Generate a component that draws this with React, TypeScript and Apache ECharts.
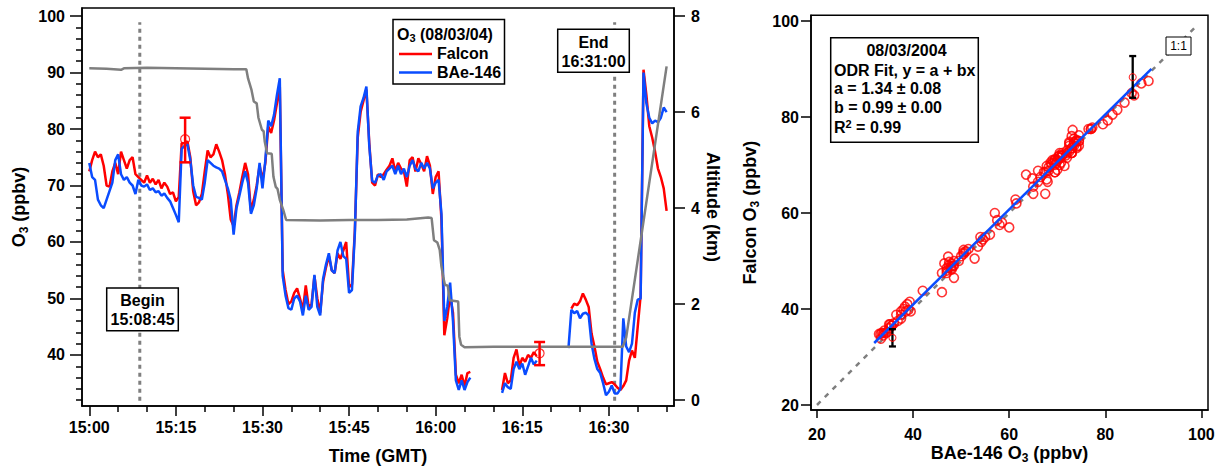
import React, { useEffect, useRef } from 'react';
import * as echarts from 'echarts';

const FONT = '"Liberation Sans", Arial, Helvetica, sans-serif';

// ---- Time series (minutes after 15:00 GMT, 30 s steps) ----
const minutes = [
  0, 0.5, 1, 1.5, 2, 2.5, 3, 3.5, 4, 4.5,
  5, 5.5, 6, 6.5, 7, 7.5, 8, 8.5, 9, 9.5,
  10, 10.5, 11, 11.5, 12, 12.5, 13, 13.5, 14, 14.5,
  15, 15.5, 16, 16.5, 17, 17.5, 18, 18.5, 19, 19.5,
  20, 20.5, 21, 21.5, 22, 22.5, 23, 23.5, 24, 24.5,
  25, 25.5, 26, 26.5, 27, 27.5, 28, 28.5, 29, 29.5,
  30, 30.5, 31, 31.5, 32, 32.5, 33, 33.5, 34, 34.5,
  35, 35.5, 36, 36.5, 37, 37.5, 38, 38.5, 39, 39.5,
  40, 40.5, 41, 41.5, 42, 42.5, 43, 43.5, 44, 44.5,
  45, 45.5, 46, 46.5, 47, 47.5, 48, 48.5, 49, 49.5,
  50, 50.5, 51, 51.5, 52, 52.5, 53, 53.5, 54, 54.5,
  55, 55.5, 56, 56.5, 57, 57.5, 58, 58.5, 59, 59.5,
  60, 60.5, 61, 61.5, 62, 62.5, 63, 63.5, 64, 64.5,
  65, 65.5, 66, 66.5, 67, 67.5, 68, 68.5, 69, 69.5,
  70, 70.5, 71, 71.5, 72, 72.5, 73, 73.5, 74, 74.5,
  75, 75.5, 76, 76.5, 77, 77.5, 78, 78.5, 79, 79.5,
  80, 80.5, 81, 81.5, 82, 82.5, 83, 83.5, 84, 84.5,
  85, 85.5, 86, 86.5, 87, 87.5, 88, 88.5, 89, 89.5,
  90, 90.5, 91, 91.5, 92, 92.5, 93, 93.5, 94, 94.5,
  95, 95.5, 96, 96.5, 97, 97.5, 98, 98.5, 99, 99.5,
  100,
];

const falconO3 = [
  72.5, 74.5, 76.0, 75.0, 75.5, 73.5, 70.0, 69.8, 72.5, 74.0,
  72.0, 76.0, 74.5, 73.0, 74.5, 75.0, 72.0, 71.5, 71.0, 70.5,
  71.8, 70.5, 71.2, 70.2, 71.0, 69.5, 70.5, 69.8, 68.5, 68.8,
  67.2, 68.0, 77.5, 77.5, 77.8, 75.0, 69.0, 66.5, 67.0, 68.5,
  72.5, 76.2, 75.0, 75.5, 77.3, 76.0, 74.5, 72.0, 68.5, 64.0,
  62.8, 66.5, 68.8, 71.5, 74.0, 72.0, 65.5, 67.5, 70.0, 73.5,
  71.0, 74.0, 80.5, 79.3, 81.5, 84.5, 87.5, 55.0, 51.5, 49.0,
  49.5, 51.0, 51.8, 50.0, 48.0, 52.3, 48.5, 49.0, 54.0, 50.0,
  47.5, 53.0, 55.5, 57.5, 55.0, 54.5, 58.0, 57.0, 58.5, 60.0,
  52.0, 52.5, 62.0, 78.5, 83.0, 85.0, 87.0, 77.5, 70.5, 70.0,
  72.0, 71.5, 72.0, 72.8, 73.5, 74.8, 72.5, 74.0, 73.0, 72.5,
  69.8, 74.5, 75.0, 72.5, 74.8, 73.8, 72.5, 75.2, 73.5, 68.5,
  71.5, 72.5, 64.0, 43.5, 46.5, 50.5, 47.5, 36.5, 35.0, 36.5,
  34.5, 36.8, 37.0, null, null, null, null, null, null, null,
  null, null, null, 33.8, 36.8, 35.0, 35.5, 39.5, 41.0, 38.0,
  39.5, 38.8, 40.0, 39.5, 40.5, 39.8, null, null, null, null,
  null, null, null, null, null, null, null, 48.2, 49.1, 48.8,
  49.5, 50.9, 49.8, 48.5, 43.8, 41.5, 38.8, 37.5, 36.0, 34.8,
  35.0, 35.2, 34.8, 34.2, 33.8, 34.5, 35.5, 39.0, 40.8, 39.5,
  45.0, 50.5, 90.5, 86.0, 80.5, 78.5, 76.0, 73.0, 71.5, 69.5,
  65.5,
];

const bae146O3 = [
  74.0, 71.5, 71.0, 67.5, 66.5, 66.0, 67.5, 69.0, 70.5, 74.5,
  75.5, 72.0, 71.0, 71.5, 70.5, 70.0, 68.5, 71.0, 70.0, 69.8,
  70.2, 69.2, 69.5, 68.8, 69.0, 68.2, 68.6, 67.8, 67.2, 66.0,
  64.8, 63.5, 76.5, 77.0, 77.3, 74.5, 70.0, 68.0, 67.8, 67.5,
  70.5, 74.5, 74.0, 73.5, 73.2, 73.0, 72.5, 71.0, 69.5, 67.5,
  61.3, 66.0, 68.2, 70.5, 72.5, 70.5, 65.0, 66.5, 69.5, 74.0,
  69.5, 74.5, 81.5, 80.5, 82.5, 86.0, 89.0, 54.0, 50.5, 48.3,
  48.0, 50.0, 50.5, 49.5, 47.0, 50.5, 48.0, 48.5, 54.2, 48.5,
  47.0, 53.5, 56.0, 58.0, 55.0, 54.5, 58.5, 60.0, 57.5, 57.0,
  51.0, 51.5, 61.5, 79.5, 84.0, 85.5, 87.5, 77.0, 70.8, 70.5,
  71.8, 72.0, 71.0, 72.5, 73.0, 73.5, 72.0, 73.5, 72.0, 73.0,
  71.5, 73.5, 74.5, 73.0, 72.5, 74.0, 73.0, 74.0, 73.0, 69.5,
  70.5, 71.0, 65.0, 46.0, 48.5, 52.8, 46.0, 35.5, 33.8, 35.5,
  33.8, 35.2, 36.0, null, null, null, null, null, null, null,
  null, null, null, 33.3, 35.0, 34.3, 34.0, 37.5, 38.8, 37.5,
  38.5, 36.5, 38.0, 39.5, 38.3, 39.0, null, null, null, null,
  null, null, null, null, null, null, 41.2, 48.0, 47.4, 47.8,
  46.5, 47.3, 47.5, 47.0, 42.0, 39.3, 37.5, 36.8, 35.0, 32.9,
  33.5, 34.6, 33.2, 33.2, 34.0, 46.5, 41.5, 40.5, 42.0, 47.5,
  49.8, 50.0, 90.0, 84.5, 82.0, 81.0, 81.5, 81.2, 82.0, 83.8,
  83.0,
];

// ---- Altitude (km) ----
const altMinutes = [0, 3, 5.5, 6, 10, 15, 20, 25, 27.2, 27.5, 28.1, 28.5, 29.0, 29.3, 29.9, 30.2, 30.4, 30.8, 31.6, 31.9, 32.3, 32.6, 33.0, 33.6, 34.1, 40, 45, 50, 55, 58.7, 59.3, 59.7, 60.3, 60.7, 61.0, 61.3, 61.6, 62.1, 62.4, 63.9, 64.1, 64.4, 65.0, 70, 80, 90, 92.4, 93.0, 100];
const altitudeKm = [6.91, 6.90, 6.88, 6.91, 6.92, 6.91, 6.90, 6.89, 6.89, 6.70, 6.46, 6.22, 6.18, 5.88, 5.63, 5.60, 5.38, 5.14, 5.13, 4.65, 4.44, 4.40, 4.17, 3.96, 3.75, 3.74, 3.75, 3.75, 3.76, 3.80, 3.79, 3.33, 3.28, 3.13, 2.78, 2.57, 2.40, 2.38, 2.08, 2.05, 1.32, 1.15, 1.10, 1.11, 1.11, 1.11, 1.11, 1.30, 6.95];

// ---- Comparison window ----
const windowMinutes = [8.75, 91];
const windowLabels = [['Begin', '15:08:45'], ['End', '16:31:00']];
const windowLineLow = 31.9;
const windowLineHigh = 98.9;

// ---- Falcon calibration error bars on time series ----
const tsErrMinutes = [16.6, 78.0];
const tsErrMid = [78.2, 40.3];
const tsErrLow = [74.1, 38.2];
const tsErrHigh = [82.0, 42.3];

// ---- Scatter error bars ----
const scErrX = [85.7, 35.7];
const scErrMid = [88.3, 34.0];
const scErrLow = [84.0, 32.2];
const scErrHigh = [92.7, 35.8];

// ---- ODR fit ----
const fitA = 1.34;
const fitB = 0.99;
const fitRangeX = [31.9, 89.6];
const oneToOne = [20, 99];

// ---- Ticks ----
const timeTickValues = [0, 15, 30, 45, 60, 75, 90];
const timeTickLabels = ['15:00', '15:15', '15:30', '15:45', '16:00', '16:15', '16:30'];
const timeMinorTicks = [5, 10, 20, 25, 35, 40, 50, 55, 65, 70, 80, 85, 95, 100];
const o3TickValues = [40, 50, 60, 70, 80, 90, 100];
const o3MinorTicks = [32, 34, 36, 38, 42, 44, 46, 48, 52, 54, 56, 58, 62, 64, 66, 68, 72, 74, 76, 78, 82, 84, 86, 88, 92, 94, 96, 98];
const altTickValues = [0, 2, 4, 6, 8];
const scatterTickValues = [20, 40, 60, 80, 100];

const RED = '#ff0000';
const BLUE = '#0a4cff';
const GREY = '#7f7f7f';
const BLACK = '#000000';

const labelStyle = { color: BLACK, fontFamily: FONT, fontWeight: 'bold' as const, fontSize: 16 };
const tickLine = { color: BLACK, width: 1.5 };
const nameRich = {
  b: { fontFamily: FONT, fontWeight: 'bold', fontSize: 18, color: BLACK, lineHeight: 22 },
  s: { fontFamily: FONT, fontWeight: 'bold', fontSize: 12, color: BLACK, verticalAlign: 'bottom' },
};
const nameStyle = { fontFamily: FONT, fontWeight: 'bold', fontSize: 18, color: BLACK, rich: nameRich };

function errorBarSeries(xIdx: number, yIdx: number, xs: number[], lo: number[], hi: number[], color: string, capHalf: number, width: number) {
  return {
    type: 'custom',
    xAxisIndex: xIdx,
    yAxisIndex: yIdx,
    z: 10,
    encode: { x: 0, y: [1, 2] },
    data: xs.map((x, i) => [x, lo[i], hi[i]]),
    renderItem: (_p: any, api: any) => {
      const x = api.value(0);
      const a = api.coord([x, api.value(1)]);
      const b = api.coord([x, api.value(2)]);
      const st = { stroke: color, lineWidth: width };
      return {
        type: 'group',
        children: [
          { type: 'line', shape: { x1: a[0], y1: a[1], x2: b[0], y2: b[1] }, style: st },
          { type: 'line', shape: { x1: a[0] - capHalf, y1: a[1], x2: a[0] + capHalf, y2: a[1] }, style: st },
          { type: 'line', shape: { x1: b[0] - capHalf, y1: b[1], x2: b[0] + capHalf, y2: b[1] }, style: st },
        ],
      };
    },
  };
}

function text(t: string, x: number, y: number, opts: any = {}) {
  const align = opts.align || 'left';
  return {
    type: 'text',
    x,
    y,
    z: 101,
    style: {
      text: t,
      fill: BLACK,
      fontFamily: FONT,
      fontWeight: opts.weight || 'bold',
      fontSize: opts.size || 16,
      align,
      textAlign: align,
      verticalAlign: 'middle',
      textVerticalAlign: 'middle',
      rich: opts.rich,
    },
  };
}

function box(x: number, y: number, w: number, h: number, lw = 1.5) {
  return { type: 'rect', z: 100, shape: { x, y, width: w, height: h }, style: { fill: '#fff', stroke: BLACK, lineWidth: lw } };
}

const richSmall = {
  b: { fontFamily: FONT, fontWeight: 'bold', fontSize: 16, color: BLACK, lineHeight: 19 },
  s: { fontFamily: FONT, fontWeight: 'bold', fontSize: 11, color: BLACK, verticalAlign: 'bottom' },
  p: { fontFamily: FONT, fontWeight: 'bold', fontSize: 11, color: BLACK, verticalAlign: 'top' },
};

function buildOption() {
  const falconPts = minutes.map((t, i) => [t, falconO3[i]]);
  const baePts = minutes.map((t, i) => [t, bae146O3[i]]);
  const altPts = altMinutes.map((t, i) => [t, altitudeKm[i]]);
  const scatterPts: number[][] = [];
  minutes.forEach((t, i) => {
    const f = falconO3[i];
    const b = bae146O3[i];
    if (t >= windowMinutes[0] && t <= windowMinutes[1] && f != null && b != null) scatterPts.push([b, f]);
  });

  const graphic: any[] = [
    // legend
    box(393, 19.5, 111.5, 64.5),
    text('{b|O}{s|3}{b| (08/03/04)}', 397, 34, { rich: richSmall }),
    { type: 'line', z: 101, shape: { x1: 399, y1: 54, x2: 432, y2: 54 }, style: { stroke: RED, lineWidth: 2.5 } },
    text('Falcon', 437, 53),
    { type: 'line', z: 101, shape: { x1: 399, y1: 72.5, x2: 432, y2: 72.5 }, style: { stroke: BLUE, lineWidth: 2.5 } },
    text('BAe-146', 437, 72),
    // Begin / End
    box(106.7, 288, 71.6, 42.7),
    text(windowLabels[0][0], 142.5, 300.5, { align: 'center' }),
    text(windowLabels[0][1], 142.5, 319.5, { align: 'center' }),
    box(557.7, 29.3, 71.6, 43),
    text(windowLabels[1][0], 593.5, 42.5, { align: 'center' }),
    text(windowLabels[1][1], 593.5, 61, { align: 'center' }),
    // fit info
    box(830.7, 37.7, 147.6, 104.6),
    text('08/03/2004', 906.5, 50.5, { align: 'center' }),
    text('ODR Fit, y = a + bx', 834, 70),
    text(`a = ${fitA.toFixed(2)} ± 0.08`, 834, 88.5),
    text(`b = ${fitB.toFixed(2)} ± 0.00`, 834, 107),
    text('{b|R}{p|2}{b| = 0.99}', 834, 127.5, { rich: richSmall }),
    // 1:1 label
    box(1166, 37, 25, 18, 1),
    text('1:1', 1178.5, 46, { align: 'center', size: 12, weight: 'normal' }),
  ];

  return {
    animation: false,
    backgroundColor: '#fff',
    grid: [
      { left: 82, top: 8, width: 592, height: 398, show: true, borderColor: BLACK, borderWidth: 1.5, backgroundColor: 'transparent', containLabel: false, outerBoundsMode: 'none' },
      { left: 811, top: 15.3, width: 397, height: 394.7, show: true, borderColor: BLACK, borderWidth: 1.5, backgroundColor: 'transparent', containLabel: false, outerBoundsMode: 'none' },
    ],
    xAxis: [
      {
        gridIndex: 0, type: 'value', min: -1.26, max: 101.28, position: 'bottom',
        axisLine: { show: true, onZero: false, lineStyle: tickLine },
        axisTick: { show: true, customValues: timeTickValues, length: 10, lineStyle: tickLine },
        axisLabel: {
          show: true, customValues: timeTickValues, margin: 13, ...labelStyle,
          formatter: (v: number) => timeTickLabels[timeTickValues.indexOf(v)] ?? '',
        },
        splitLine: { show: false },
        name: 'Time (GMT)', nameLocation: 'middle', nameGap: 41, nameMoveOverlap: false, nameTextStyle: nameStyle,
      },
      {
        gridIndex: 0, type: 'value', min: -1.26, max: 101.28, position: 'bottom',
        axisLine: { show: false, onZero: false },
        axisTick: { show: true, customValues: timeMinorTicks, length: 6, lineStyle: tickLine },
        axisLabel: { show: false },
        splitLine: { show: false },
      },
      {
        gridIndex: 1, type: 'value', min: 18.75, max: 101.37, position: 'bottom',
        axisLine: { show: true, onZero: false, lineStyle: tickLine },
        axisTick: { show: true, customValues: scatterTickValues, length: 8, lineStyle: tickLine },
        axisLabel: { show: true, customValues: scatterTickValues, margin: 16, ...labelStyle },
        splitLine: { show: false },
        name: '{b|BAe-146 O}{s|3}{b| (ppbv)}', nameLocation: 'middle', nameGap: 32, nameMoveOverlap: false, nameTextStyle: nameStyle,
      },
    ],
    yAxis: [
      {
        gridIndex: 0, type: 'value', min: 30.97, max: 101.42, position: 'left',
        axisLine: { show: true, onZero: false, lineStyle: tickLine },
        axisTick: { show: true, customValues: o3TickValues, length: 12, lineStyle: tickLine },
        axisLabel: { show: true, customValues: o3TickValues, margin: 17, ...labelStyle },
        splitLine: { show: false },
        name: '{b|O}{s|3}{b| (ppbv)}', nameLocation: 'middle', nameGap: 52, nameMoveOverlap: false, nameTextStyle: nameStyle,
      },
      {
        gridIndex: 0, type: 'value', min: -0.125, max: 8.167, position: 'right',
        axisLine: { show: true, onZero: false, lineStyle: tickLine },
        axisTick: { show: true, customValues: altTickValues, length: 11, lineStyle: tickLine },
        axisLabel: { show: true, customValues: altTickValues, margin: 17, ...labelStyle },
        splitLine: { show: false },
        name: 'Altitude (km)', nameLocation: 'middle', nameGap: 30, nameRotate: -90, nameMoveOverlap: false, nameTextStyle: nameStyle,
      },
      {
        gridIndex: 0, type: 'value', min: 30.97, max: 101.42, position: 'left',
        axisLine: { show: false, onZero: false },
        axisTick: { show: true, customValues: o3MinorTicks, length: 6, lineStyle: tickLine },
        axisLabel: { show: false },
        splitLine: { show: false },
      },
      {
        gridIndex: 1, type: 'value', min: 18.96, max: 101.19, position: 'left',
        axisLine: { show: true, onZero: false, lineStyle: tickLine },
        axisTick: { show: true, customValues: scatterTickValues, length: 10, lineStyle: tickLine },
        axisLabel: { show: true, customValues: scatterTickValues, margin: 12, ...labelStyle },
        splitLine: { show: false },
        name: '{b|Falcon O}{s|3}{b| (ppbv)}', nameLocation: 'middle', nameGap: 50, nameMoveOverlap: false, nameTextStyle: nameStyle,
      },
    ],
    graphic,
    series: [
      ...windowMinutes.map((m) => ({
        type: 'line', xAxisIndex: 0, yAxisIndex: 0, z: 1, symbol: 'none', silent: true,
        data: [[m, windowLineLow], [m, windowLineHigh]],
        lineStyle: { color: GREY, width: 3, type: [4, 4] },
      })),
      {
        name: 'Falcon', type: 'line', xAxisIndex: 0, yAxisIndex: 0, z: 3, symbol: 'none', connectNulls: false,
        data: falconPts, lineStyle: { color: RED, width: 2.5 },
      },
      {
        name: 'BAe-146', type: 'line', xAxisIndex: 0, yAxisIndex: 0, z: 4, symbol: 'none', connectNulls: false,
        data: baePts, lineStyle: { color: BLUE, width: 2.5 },
      },
      {
        name: 'Altitude', type: 'line', xAxisIndex: 0, yAxisIndex: 1, z: 5, symbol: 'none',
        data: altPts, lineStyle: { color: GREY, width: 2.5 },
      },
      errorBarSeries(0, 0, tsErrMinutes, tsErrLow, tsErrHigh, RED, 5.5, 2.5),
      {
        type: 'scatter', xAxisIndex: 0, yAxisIndex: 0, z: 11, symbol: 'circle', symbolSize: 9,
        data: tsErrMinutes.map((t, i) => [t, tsErrMid[i]]),
        itemStyle: { color: 'transparent', borderColor: RED, borderWidth: 1.2 },
      },
      // scatter panel
      {
        type: 'line', xAxisIndex: 2, yAxisIndex: 3, z: 1, symbol: 'none',
        data: [[oneToOne[0], oneToOne[0]], [oneToOne[1], oneToOne[1]]],
        lineStyle: { color: GREY, width: 2.5, type: [5, 6] },
      },
      {
        type: 'scatter', xAxisIndex: 2, yAxisIndex: 3, z: 3, symbol: 'circle', symbolSize: 9,
        data: scatterPts,
        itemStyle: { color: 'transparent', borderColor: RED, borderWidth: 1.6 },
      },
      {
        type: 'line', xAxisIndex: 2, yAxisIndex: 3, z: 5, symbol: 'none',
        data: fitRangeX.map((x) => [x, fitA + fitB * x]),
        lineStyle: { color: BLUE, width: 2.5 },
      },
      errorBarSeries(2, 3, scErrX, scErrLow, scErrHigh, BLACK, 3.5, 2.3),
      {
        type: 'scatter', xAxisIndex: 2, yAxisIndex: 3, z: 11, symbol: 'circle', symbolSize: 7,
        data: scErrX.map((x, i) => [x, scErrMid[i]]),
        itemStyle: { color: 'transparent', borderColor: RED, borderWidth: 1.1 },
      },
    ],
  };
}

export default function App() {
  const ref = useRef<HTMLDivElement>(null);
  useEffect(() => {
    if (!ref.current) return;
    const chart = echarts.init(ref.current, null, { renderer: 'svg' });
    chart.setOption(buildOption() as any);
    return () => chart.dispose();
  }, []);
  return (
    <div
      ref={ref}
      style={{ position: 'fixed', left: 0, top: 0, width: 1220, height: 466, background: '#fff' }}
    />
  );
}
